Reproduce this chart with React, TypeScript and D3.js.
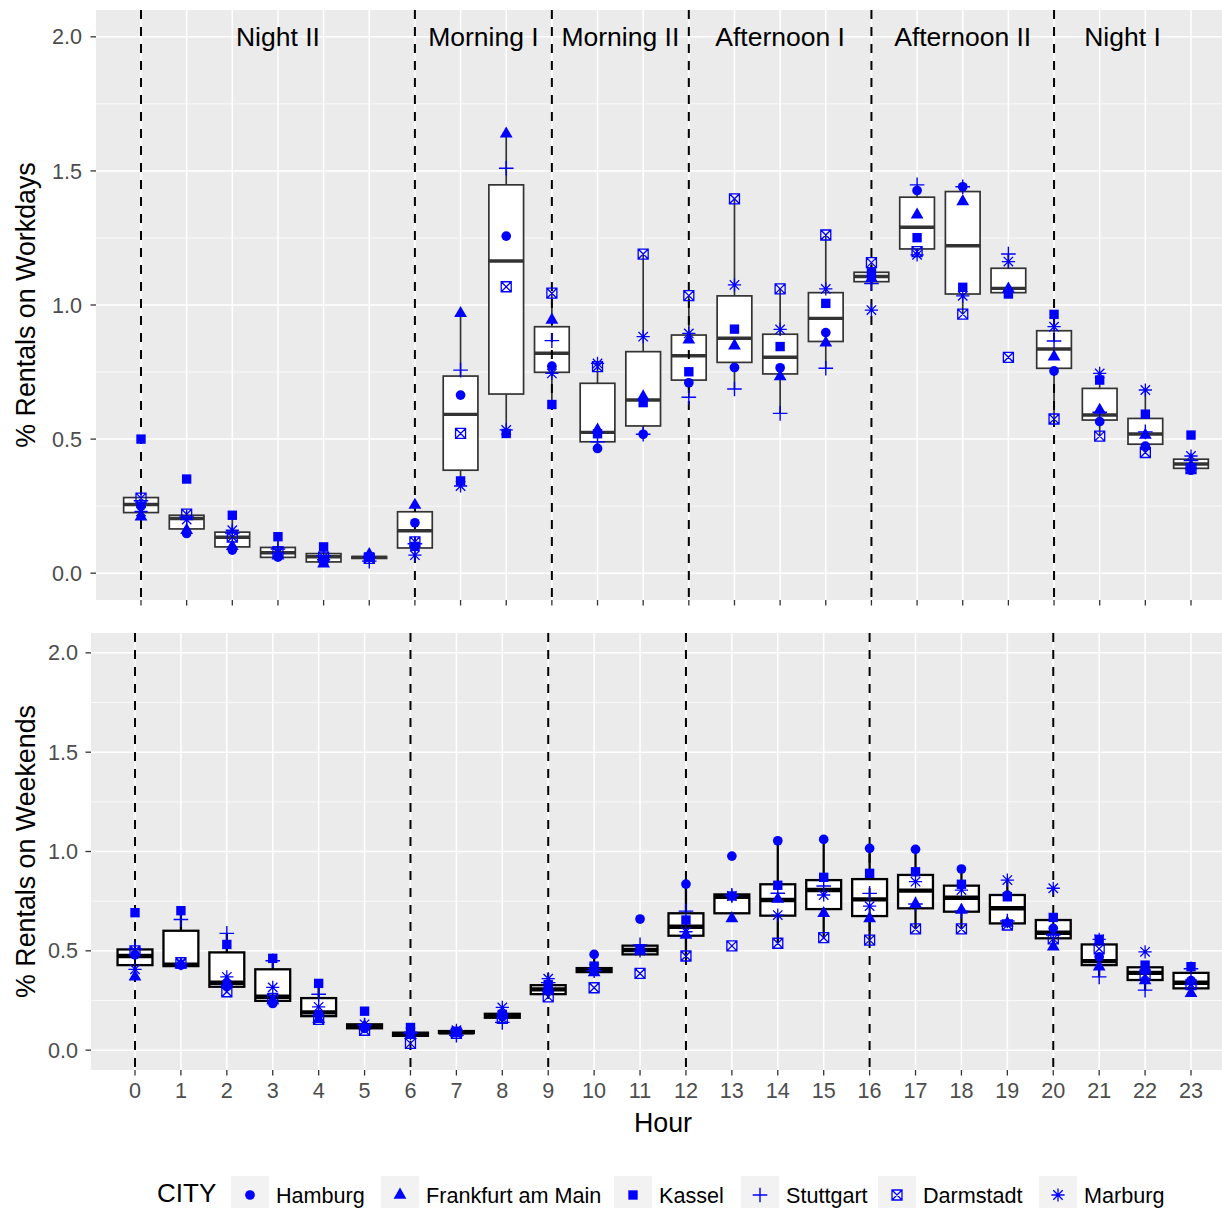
import React from 'react';
import * as d3 from 'd3';

// ---------- DATA ----------
const hours = [0,1,2,3,4,5,6,7,8,9,10,11,12,13,14,15,16,17,18,19,20,21,22,23];
const cities = ['Hamburg', 'Frankfurt am Main', 'Kassel', 'Stuttgart', 'Darmstadt', 'Marburg'];
const cityShapes = ['circle', 'triangle', 'square', 'plus', 'squarex', 'asterisk'];

const periodBreaks = [0, 6, 9, 12, 16, 20];
const periodLabels = ['Night II', 'Morning I', 'Morning II', 'Afternoon I', 'Afternoon II', 'Night I'];
const periodLabelHours = [3, 7.5, 10.5, 14, 18, 21.5];
const yTicks = [0, 0.5, 1.0, 1.5, 2.0];
const yMinor = [0.25, 0.75, 1.25, 1.75];

// Workdays – points per city
const hamburgWork = [0.25,0.148,0.086,0.06,0.05,0.058,0.188,0.664,1.257,0.772,0.465,0.518,0.710,0.767,0.766,0.897,1.105,1.427,1.441,1.05,0.754,0.565,0.474,0.384];
const frankfurtWork = [0.21,0.16,0.10,0.065,0.035,0.07,0.254,0.969,1.638,0.944,0.534,0.658,0.87,0.848,0.733,0.859,1.10,1.336,1.386,1.06,0.807,0.608,0.515,0.40];
const kasselWork = [0.50,0.351,0.216,0.136,0.098,0.06,0.10,0.344,0.521,0.629,0.52,0.636,0.751,0.910,0.845,1.006,1.12,1.251,1.066,1.041,0.965,0.720,0.593,0.515];
const stuttgartWork = [0.27,0.21,0.15,0.09,0.065,0.045,0.11,0.757,1.510,0.867,0.49,0.518,0.656,0.687,0.596,0.764,1.08,1.448,1.441,1.19,0.866,0.60,0.527,0.42];
const darmstadtWork = [0.28,0.22,0.135,0.08,0.06,0.055,0.117,0.521,1.068,1.044,0.770,1.190,1.035,1.396,1.060,1.261,1.158,1.199,0.966,0.805,0.575,0.511,0.450,0.39];
const marburgWork = [0.23,0.20,0.16,0.075,0.05,0.06,0.067,0.325,0.534,0.745,0.782,0.882,0.894,1.075,0.909,1.060,0.981,1.187,1.034,1.162,0.919,0.745,0.683,0.437];

// Workdays – box statistics
const workLow = [0.21,0.148,0.086,0.055,0.035,0.045,0.067,0.325,0.521,0.629,0.465,0.518,0.656,0.687,0.596,0.764,1.075,1.187,0.966,1.041,0.575,0.511,0.450,0.384];
const workQ1 = [0.226,0.165,0.098,0.059,0.042,0.055,0.094,0.384,0.668,0.749,0.490,0.549,0.720,0.786,0.743,0.864,1.087,1.209,1.041,1.046,0.764,0.571,0.481,0.391];
const workMedian = [0.256,0.204,0.134,0.076,0.061,0.059,0.158,0.592,1.164,0.820,0.525,0.646,0.811,0.876,0.805,0.950,1.106,1.290,1.221,1.062,0.836,0.590,0.519,0.407];
const workQ3 = [0.282,0.216,0.153,0.096,0.073,0.062,0.229,0.735,1.448,0.919,0.708,0.826,0.888,1.034,0.891,1.046,1.122,1.402,1.423,1.137,0.904,0.689,0.577,0.425];
const workHigh = [0.282,0.22,0.216,0.136,0.098,0.07,0.254,0.969,1.638,1.044,0.782,1.190,1.035,1.396,1.060,1.261,1.158,1.448,1.441,1.19,0.965,0.745,0.683,0.437];

// Weekends – points per city
const hamburgWeekend = [0.48,0.428,0.32,0.235,0.18,0.11,0.08,0.09,0.17,0.30,0.482,0.660,0.836,0.977,1.054,1.061,1.016,1.011,0.912,0.78,0.613,0.47,0.40,0.35];
const frankfurtWeekend = [0.369,0.43,0.34,0.25,0.155,0.12,0.075,0.085,0.175,0.31,0.39,0.50,0.58,0.663,0.76,0.689,0.663,0.736,0.705,0.64,0.520,0.420,0.35,0.286];
const kasselWeekend = [0.692,0.702,0.532,0.462,0.336,0.196,0.114,0.095,0.18,0.33,0.423,0.51,0.655,0.776,0.830,0.870,0.890,0.898,0.835,0.772,0.668,0.558,0.428,0.420];
const stuttgartWeekend = [0.51,0.658,0.588,0.45,0.281,0.125,0.085,0.075,0.14,0.34,0.40,0.53,0.700,0.78,0.79,0.826,0.789,0.736,0.70,0.65,0.58,0.369,0.302,0.41];
const darmstadtWeekend = [0.50,0.44,0.294,0.26,0.155,0.10,0.034,0.085,0.16,0.268,0.314,0.386,0.474,0.525,0.538,0.566,0.554,0.610,0.610,0.63,0.56,0.51,0.38,0.33];
const marburgWeekend = [0.407,0.435,0.369,0.316,0.218,0.13,0.09,0.10,0.215,0.36,0.41,0.50,0.596,0.776,0.680,0.781,0.725,0.848,0.806,0.856,0.815,0.558,0.495,0.33];

// Weekends – box statistics
const weekendLow = [0.369,0.423,0.294,0.235,0.151,0.10,0.07,0.075,0.14,0.268,0.39,0.48,0.474,0.663,0.538,0.566,0.554,0.610,0.610,0.63,0.520,0.369,0.302,0.286];
const weekendQ1 = [0.428,0.423,0.319,0.248,0.171,0.11,0.072,0.086,0.163,0.282,0.393,0.482,0.576,0.689,0.677,0.710,0.675,0.714,0.697,0.638,0.563,0.428,0.353,0.311];
const weekendMedian = [0.474,0.43,0.339,0.269,0.190,0.12,0.079,0.09,0.173,0.306,0.403,0.504,0.621,0.772,0.756,0.806,0.759,0.803,0.767,0.714,0.591,0.448,0.389,0.339];
const weekendQ3 = [0.507,0.601,0.492,0.407,0.262,0.13,0.088,0.096,0.183,0.327,0.413,0.526,0.689,0.784,0.835,0.856,0.861,0.882,0.828,0.781,0.655,0.532,0.417,0.389];
const weekendHigh = [0.51,0.702,0.588,0.462,0.336,0.13,0.09,0.10,0.215,0.36,0.482,0.53,0.836,0.784,1.054,1.061,1.016,1.011,0.912,0.856,0.668,0.558,0.428,0.420];

// ---------- STYLE ----------
const FONT = '"Liberation Sans", Arial, Helvetica, sans-serif';
const BLUE = '#0000FF';
const PANEL_BG = '#EBEBEB';
const TICK_COLOR = '#4D4D4D';

const workSeries = [hamburgWork, frankfurtWork, kasselWork, stuttgartWork, darmstadtWork, marburgWork];
const weekendSeries = [hamburgWeekend, frankfurtWeekend, kasselWeekend, stuttgartWeekend, darmstadtWeekend, marburgWeekend];

function markerPath(shape: string): { d: string; filled: boolean; sw: number } {
  if (shape === 'circle') return { d: d3.symbol(d3.symbolCircle, 74)() as string, filled: true, sw: 0 };
  if (shape === 'triangle') {
    const p = d3.path();
    p.moveTo(0, -7.4); p.lineTo(6.4, 3.7); p.lineTo(-6.4, 3.7); p.closePath();
    return { d: p.toString(), filled: true, sw: 0 };
  }
  if (shape === 'square') return { d: d3.symbol(d3.symbolSquare, 88)() as string, filled: true, sw: 0 };
  if (shape === 'plus') {
    const p = d3.path();
    p.moveTo(-7.3, 0); p.lineTo(7.3, 0); p.moveTo(0, -7.3); p.lineTo(0, 7.3);
    return { d: p.toString(), filled: false, sw: 1.4 };
  }
  if (shape === 'squarex') {
    const p = d3.path();
    const s = 5;
    p.rect(-s, -s, 2 * s, 2 * s);
    p.moveTo(-s, -s); p.lineTo(s, s); p.moveTo(s, -s); p.lineTo(-s, s);
    return { d: p.toString(), filled: false, sw: 1.3 };
  }
  // asterisk
  const p = d3.path();
  const a = 6.6, b = 4.7;
  p.moveTo(-a, 0); p.lineTo(a, 0); p.moveTo(0, -a); p.lineTo(0, a);
  p.moveTo(-b, -b); p.lineTo(b, b); p.moveTo(b, -b); p.lineTo(-b, b);
  return { d: p.toString(), filled: false, sw: 1.3 };
}

function Marker({ shape, x, y }: { shape: string; x: number; y: number }) {
  const m = markerPath(shape);
  return (
    <path
      d={m.d}
      transform={`translate(${x},${y})`}
      fill={m.filled ? BLUE : 'none'}
      stroke={m.filled ? 'none' : BLUE}
      strokeWidth={m.sw}
    />
  );
}

type PanelProps = {
  top: number; bottom: number; left: number; right: number;
  x0: number; x23: number;
  series: number[][];
  low: number[]; q1: number[]; med: number[]; q3: number[]; high: number[];
  boxStroke: string; boxSW: number; medSW: number;
  labelRight: number; showXLabels: boolean; showAnnotations: boolean;
  yTitle: string;
};

function Panel(p: PanelProps) {
  const x = d3.scaleLinear().domain([0, 23]).range([p.x0, p.x23]);
  const y = d3.scaleLinear().domain([-0.1, 2.1]).range([p.bottom, p.top]);
  const step = x(1) - x(0);
  const bw = step * 0.76;
  const yFmt = d3.format('.1f');
  return (
    <g>
      <rect x={p.left} y={p.top} width={p.right - p.left} height={p.bottom - p.top} fill={PANEL_BG} />
      {yMinor.map((v) => (
        <line key={'mn' + v} x1={p.left} x2={p.right} y1={y(v)} y2={y(v)} stroke="#fff" strokeWidth={0.75} />
      ))}
      {yTicks.map((v) => (
        <line key={'mj' + v} x1={p.left} x2={p.right} y1={y(v)} y2={y(v)} stroke="#fff" strokeWidth={1.5} />
      ))}
      {hours.map((h) => (
        <line key={'vx' + h} x1={x(h)} x2={x(h)} y1={p.top} y2={p.bottom} stroke="#fff" strokeWidth={1.5} />
      ))}
      {/* boxplots */}
      {hours.map((h, i) => (
        <g key={'bx' + h}>
          <line x1={x(h)} x2={x(h)} y1={y(p.q3[i])} y2={y(p.high[i])} stroke={p.boxStroke} strokeWidth={p.boxSW} />
          <line x1={x(h)} x2={x(h)} y1={y(p.q1[i])} y2={y(p.low[i])} stroke={p.boxStroke} strokeWidth={p.boxSW} />
          <rect x={x(h) - bw / 2} y={y(p.q3[i])} width={bw} height={Math.max(0.5, y(p.q1[i]) - y(p.q3[i]))}
            fill="#fff" stroke={p.boxStroke} strokeWidth={p.boxSW} />
          <line x1={x(h) - bw / 2} x2={x(h) + bw / 2} y1={y(p.med[i])} y2={y(p.med[i])} stroke={p.boxStroke} strokeWidth={p.medSW} />
        </g>
      ))}
      {/* period separators */}
      {periodBreaks.map((h) => (
        <line key={'pb' + h} x1={x(h)} x2={x(h)} y1={p.top} y2={p.bottom} stroke="#000" strokeWidth={2} strokeDasharray="9,8" />
      ))}
      {/* points */}
      {p.series.map((vals, ci) => (
        <g key={'s' + ci}>
          {vals.map((v, i) => <Marker key={i} shape={cityShapes[ci]} x={x(hours[i])} y={y(v)} />)}
        </g>
      ))}
      {p.showAnnotations && periodLabels.map((lab, i) => (
        <text key={'pl' + i} x={x(periodLabelHours[i])} y={y(2.0) + 9.5} textAnchor="middle"
          fontFamily={FONT} fontSize={26.5} fill="#000">{lab}</text>
      ))}
      {/* y axis */}
      {yTicks.map((v) => (
        <g key={'yt' + v}>
          <line x1={p.left - 5.5} x2={p.left} y1={y(v)} y2={y(v)} stroke="#333333" strokeWidth={1.3} />
          <text x={p.labelRight} y={y(v) + 7.6} textAnchor="end" fontFamily={FONT} fontSize={21.6} fill={TICK_COLOR}>{yFmt(v)}</text>
        </g>
      ))}
      {/* x ticks */}
      {hours.map((h) => (
        <line key={'xt' + h} x1={x(h)} x2={x(h)} y1={p.bottom} y2={p.bottom + 5.5} stroke="#333333" strokeWidth={1.3} />
      ))}
      {p.showXLabels && hours.map((h) => (
        <text key={'xl' + h} x={x(h)} y={p.bottom + 28} textAnchor="middle" fontFamily={FONT} fontSize={21.6} fill={TICK_COLOR}>{String(h)}</text>
      ))}
      <text transform={`translate(34.5,${(p.top + p.bottom) / 2}) rotate(-90)`} textAnchor="middle"
        fontFamily={FONT} fontSize={26.8} fill="#000">{p.yTitle}</text>
    </g>
  );
}

const legendCenters = [250, 400, 633, 760, 897, 1058];

export default function App() {
  return (
    <svg width={1222} height={1208} style={{ position: 'absolute', left: 0, top: 0, background: '#fff' }}
      xmlns="http://www.w3.org/2000/svg">
      <rect x={0} y={0} width={1222} height={1208} fill="#fff" />
      <Panel top={10} bottom={600} left={96} right={1222} x0={141} x23={1191}
        series={workSeries} low={workLow} q1={workQ1} med={workMedian} q3={workQ3} high={workHigh}
        boxStroke="#333333" boxSW={1.7} medSW={3.4} labelRight={82}
        showXLabels={false} showAnnotations={true} yTitle="% Rentals on Workdays" />
      <Panel top={633} bottom={1070} left={91} right={1222} x0={135} x23={1191}
        series={weekendSeries} low={weekendLow} q1={weekendQ1} med={weekendMedian} q3={weekendQ3} high={weekendHigh}
        boxStroke="#000000" boxSW={2.3} medSW={4.4} labelRight={78}
        showXLabels={true} showAnnotations={false} yTitle="% Rentals on Weekends" />
      <text x={663} y={1132} textAnchor="middle" fontFamily={FONT} fontSize={26.8} fill="#000">Hour</text>
      {/* legend */}
      <text x={157} y={1202} fontFamily={FONT} fontSize={26} fill="#000">CITY</text>
      {cities.map((c, i) => (
        <g key={'lg' + i}>
          <rect x={legendCenters[i] - 19} y={1176} width={38} height={38} fill="#F2F2F2" />
          <Marker shape={cityShapes[i]} x={legendCenters[i]} y={1195} />
          <text x={legendCenters[i] + 26} y={1202.5} fontFamily={FONT} fontSize={21.6} fill="#000">{c}</text>
        </g>
      ))}
    </svg>
  );
}
